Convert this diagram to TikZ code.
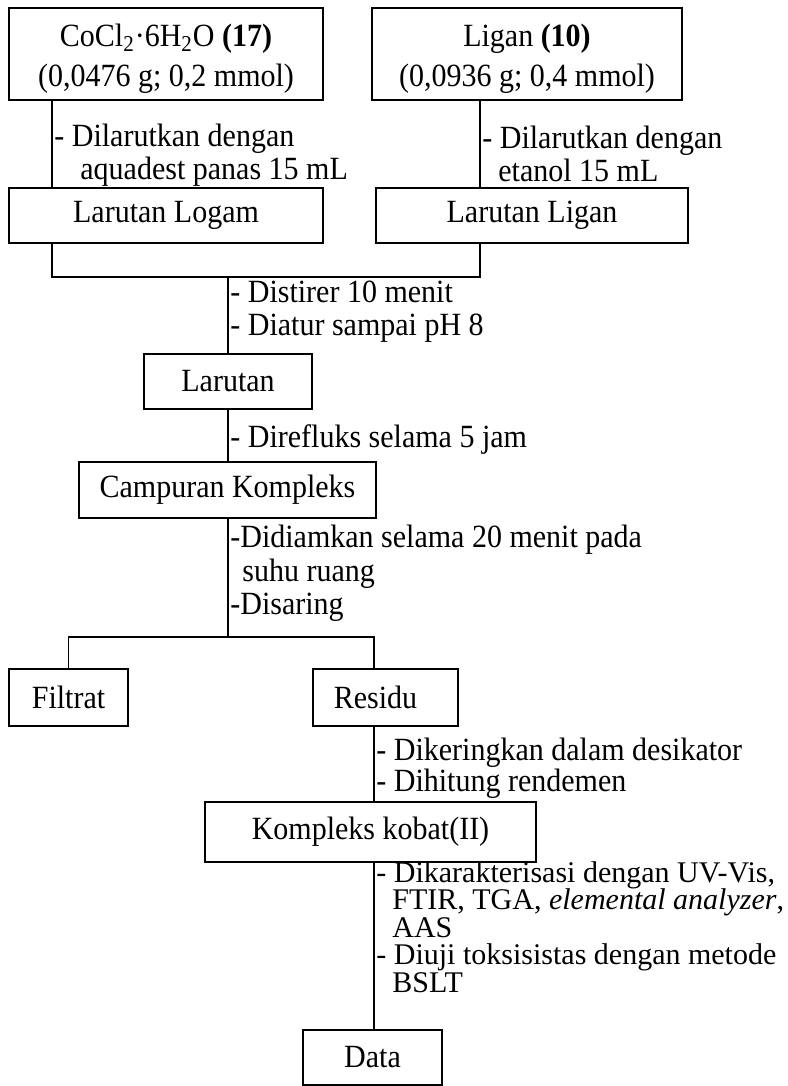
\documentclass[tikz,border=0pt]{standalone}
\usepackage{graphicx}
\usepackage{fontspec}
\setmainfont{Liberation Serif}
\newcommand{\tinggi}[1]{\scalebox{1}[1.08]{#1}}

\begin{document}
\begin{tikzpicture}[x=0.5pt, y=-0.5pt,
        every node/.style={font=\fontsize{15}{16.5}\selectfont},
        kotak/.style={draw, line width=1pt, inner sep=0pt, align=center},
        ket/.style={anchor=west, inner sep=0pt, align=left, yscale=1.08},
        garis/.style={line width=0.7pt}]
        \useasboundingbox (0,0) rectangle (787,1086);

        % Bahan awal
        \node[kotak, minimum width=157pt, minimum height=46pt, font=\fontsize{15}{20}\selectfont] (logam) at (166,54) {\rule{0pt}{16pt}\tinggi{CoCl\textsubscript{2}·6H\textsubscript{2}O \textbf{(17)}}\\\tinggi{(0,0476 g; 0,2 mmol)}};
        \node[kotak, minimum width=155pt, minimum height=46pt, font=\fontsize{15}{20}\selectfont] (ligan) at (527,54) {\rule{0pt}{16pt}\tinggi{Ligan \textbf{(10)}}\\\tinggi{(0,0936 g; 0,4 mmol)}};

        % Larutan
        \node[kotak, minimum width=157pt, minimum height=27.5pt] (larlogam) at (166,215.5) {\tinggi{Larutan Logam}};
        \node[kotak, minimum width=156pt, minimum height=27.5pt] (larligan) at (532,215.5) {\tinggi{Larutan Ligan}};
        \node[kotak, minimum width=84pt, minimum height=27.5pt] (larutan) at (228,381.5) {\tinggi{Larutan}};
        \node[kotak, minimum width=148.5pt, minimum height=28pt] (campuran) at (227.5,490) {\tinggi{Campuran Kompleks}};

        % Hasil saring
        \node[kotak, minimum width=59.5pt, minimum height=28.5pt] (filtrat) at (68.5,697.5) {\tinggi{Filtrat}};
        \node[kotak, minimum width=72.5pt, minimum height=28.5pt] (residu) at (385.5,697.5) {\tinggi{Residu}\hspace*{10pt}};
        \node[kotak, minimum width=165.5pt, minimum height=30pt] (kobat) at (370.5,832) {\tinggi{Kompleks kobat(II)}};
        \node[kotak, minimum width=69.5pt, minimum height=27.5pt] (data) at (372.5,1057.5) {\tinggi{Data}};

        % Titik sambung
        \coordinate (kiri) at (52,277);
        \coordinate (kanan) at (480,277);
        \coordinate (tengah) at (228,277);
        \coordinate (saring) at (228,637);
        \coordinate (saringR) at (374,637);

        % Garis
        \draw[garis] (logam.south -| kiri) -- (larlogam.north -| kiri);
        \draw[garis] (ligan.south -| kanan) -- (larligan.north -| kanan);
        \draw[garis] (larlogam.south -| kiri) -- (kiri) -- (kanan) -- (larligan.south -| kanan);
        \draw[garis] (tengah) -- (larutan.north);
        \draw[garis] (larutan.south) -- (campuran.north -| larutan);
        \draw[garis] (campuran.south -| saring) -- (saring);
        \draw[garis] (filtrat.north) |- (saringR) -- (residu.north -| saringR);
        \draw[garis] (residu.south -| saringR) -- (kobat.north -| saringR);
        \draw[garis] (kobat.south -| saringR) -- (data.north -| saringR);

        % Keterangan
        \node[ket, font=\fontsize{15}{15.3}\selectfont] (k1) at (54,155) {- Dilarutkan dengan\\\hspace*{13pt}aquadest panas 15 mL};
        \node[ket, font=\fontsize{15}{15.3}\selectfont] (k2) at (482,154) {- Dilarutkan dengan\\\hspace*{8pt}etanol 15 mL};
        \node[ket, font=\fontsize{15}{15.3}\selectfont] (k3) at (230,311.5) {- Distirer 10 menit\\- Diatur sampai pH 8};
        \node[ket] (k4) at (230,440) {- Direfluks selama 5 jam};
        \node[ket, font=\fontsize{15}{15.5}\selectfont] (k5) at (230,573.5) {-Didiamkan selama 20 menit pada\\\hspace*{6pt}suhu ruang\\-Disaring};
        \node[ket, font=\fontsize{15}{14.4}\selectfont] (k6) at (376,768) {- Dikeringkan dalam desikator\\- Dihitung rendemen};
        \node[ket, yscale=1/1.08, font=\fontsize{15}{13.75}\selectfont] (k7) at (376,927) {- Dikarakterisasi dengan UV-Vis,\\\hspace*{8pt}FTIR, TGA, \textit{elemental analyzer},\\\hspace*{8pt}AAS\\- Diuji toksisistas dengan metode\\\hspace*{8pt}BSLT};
    \end{tikzpicture}
\end{document}
